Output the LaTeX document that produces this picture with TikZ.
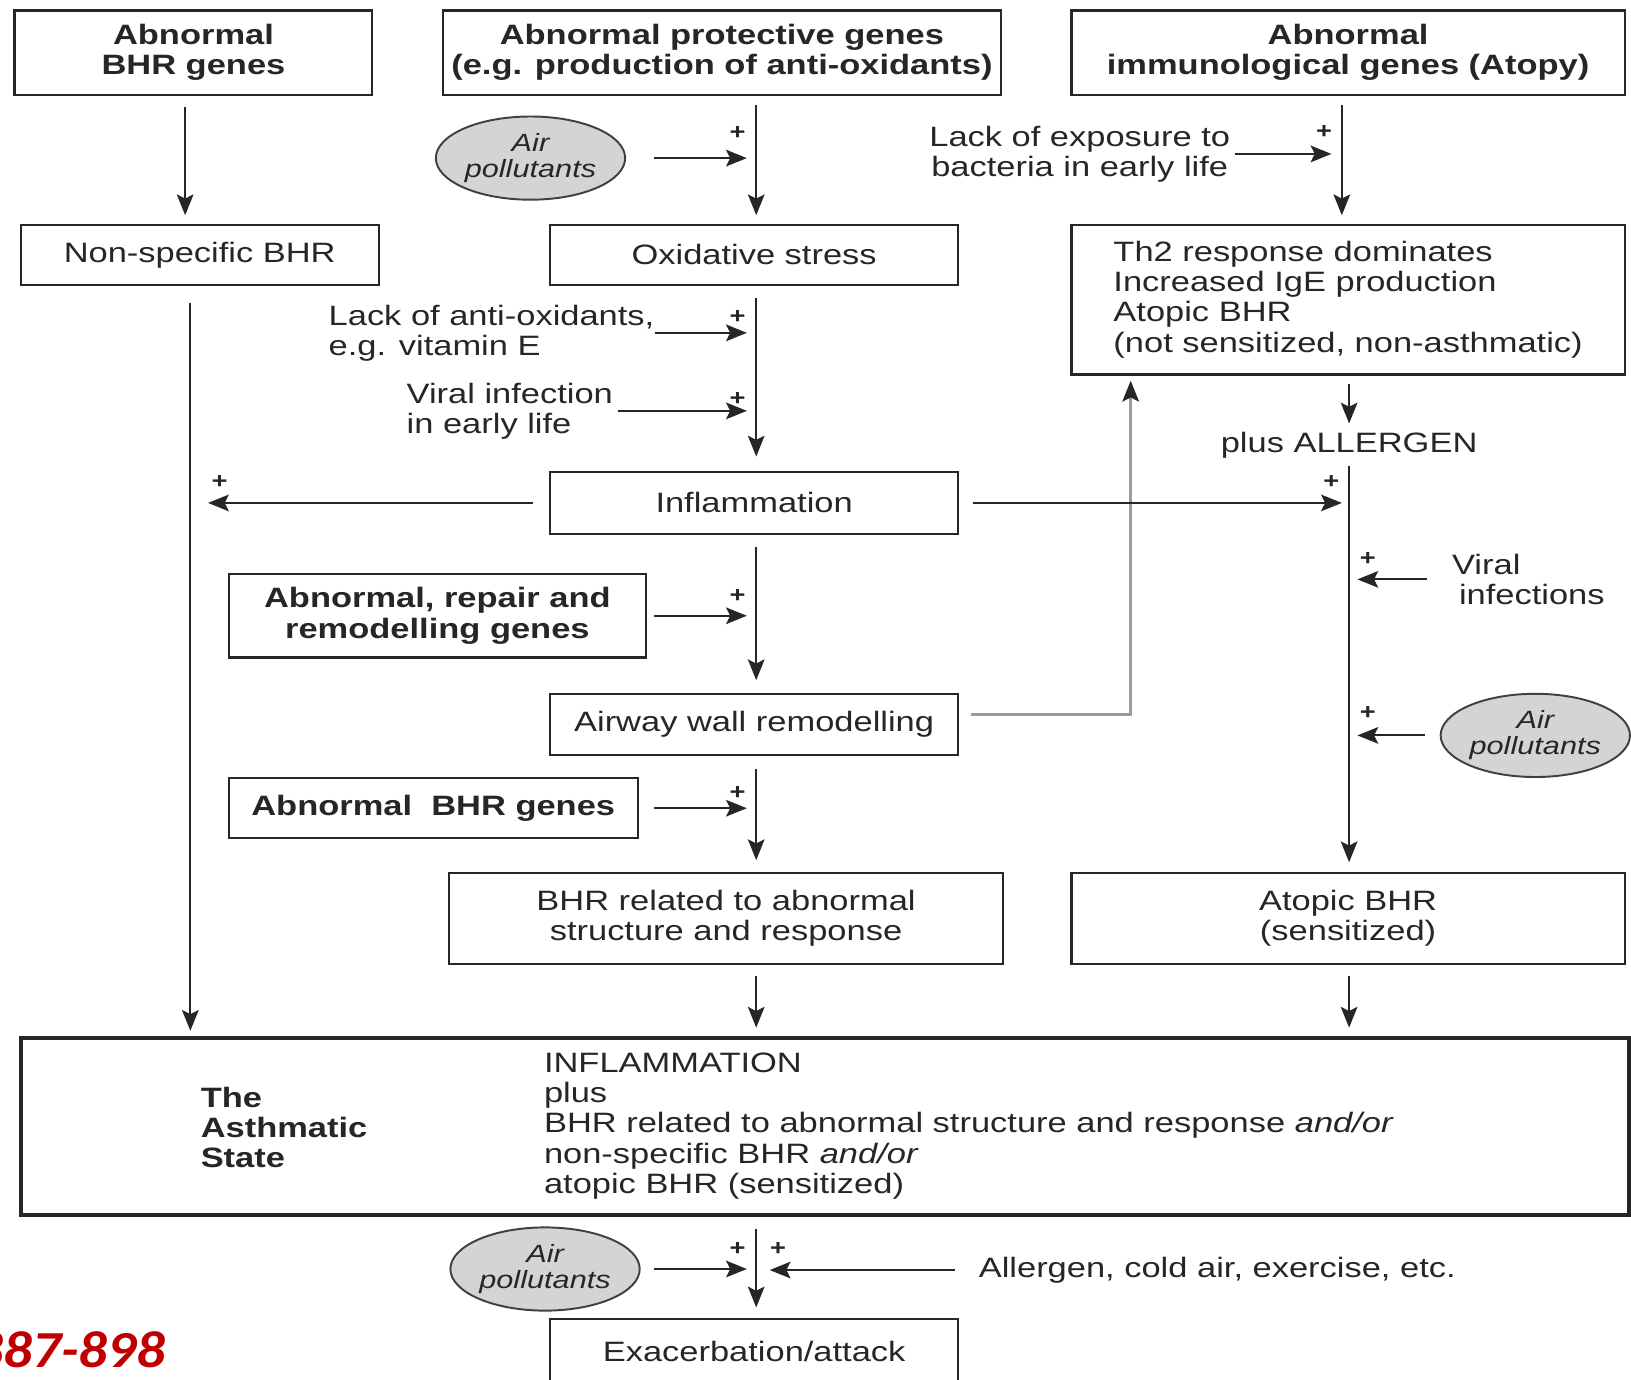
\documentclass[tikz,border=0pt]{standalone}
\usepackage{fontspec}
\setmainfont{Liberation Sans}[FakeStretch=1.23]
\newfontfamily\pagefont{Carlito}[FakeStretch=1.1]
\usetikzlibrary{arrows.meta,shapes.geometric}

\definecolor{ink}{HTML}{262626}
\definecolor{pollgray}{HTML}{D4D4D4}
\definecolor{linkgray}{HTML}{9A9A9A}
\definecolor{pagered}{HTML}{C00000}

\tikzset{every picture/.style={line width=1.5pt}}
\tikzset{
  sz/.style 2 args={minimum width=#1*0.75pt, minimum height=#2*0.75pt},
  box/.style={draw=ink, line width=1.6pt, inner sep=0pt, align=center, text=ink, font=\fontsize{20.2}{21.75}\selectfont},
  hbox/.style={box, font=\fontsize{20.2}{21.75}\selectfont\bfseries},
  txt/.style={inner sep=0pt, text=ink, font=\fontsize{20.2}{21.75}\selectfont},
  poll/.style={ellipse, draw=black!75, fill=pollgray, line width=1.4pt, inner sep=0pt, sz={182}{80}, align=center, text=ink, font=\fontsize{18}{18.75}\selectfont\itshape},
  plus/.style={inner sep=0pt, text=ink, font=\fontsize{16}{16}\selectfont\bfseries},
  arr/.style={draw=ink, line width=1.5pt, -{Stealth[length=15pt,width=12pt,inset=3pt]}},
}

\begin{document}
\begin{tikzpicture}[x=0.75pt,y=0.75pt,yscale=-1,xscale=1]
\useasboundingbox (0,0) rectangle (1568,1326);
%spines
\coordinate (sl) at (178,0);
\coordinate (sl2) at (183,0);
\coordinate (sm) at (727,0);
\coordinate (sr) at (1290,0);
\coordinate (sr2) at (1297,0);
\coordinate (gx) at (1087,687);

%Genes (top row)
\node[hbox, sz={344}{81}] (bhrg) at (186,50.5) {Abnormal\\BHR genes};
\node[hbox, sz={536}{81}] (protg) at (694,50.5) {Abnormal protective genes\\(e.g. production of anti-oxidants)};
\node[hbox, sz={532}{81}] (immg) at (1296,50.5) {Abnormal\\immunological genes (Atopy)};
%Second row
\node[box, sz={344}{58}] (nsbhr) at (192,245) {Non-specific BHR};
\node[box, sz={392}{58}] (oxid) at (725,245) {Oxidative stress};
\node[box, sz={532}{144}, align=left] (th2) at (1296,288) {Th2 response dominates\\Increased IgE production\\Atopic BHR\\(not sensitized, non-asthmatic)};
%Middle column
\node[box, sz={392}{59}] (infl) at (725,483.5) {Inflammation};
\node[hbox, sz={401}{80}] (repg) at (420.5,592) {Abnormal, repair and\\remodelling genes};
\node[box, sz={392}{59}] (awall) at (725,696.5) {Airway wall remodelling};
\node[hbox, sz={393}{58}] (bhrg2) at (416.5,777) {Abnormal\ \ BHR genes};
\node[box, sz={532}{88}] (bhrst) at (698,883) {BHR related to abnormal\\structure and response};
\node[box, sz={532}{88}] (atsens) at (1296,883) {Atopic BHR\\(sensitized)};
%Asthmatic state
\node[box, line width=3pt, sz={1546}{170}] (asth) at (793,1083) {};
\node[txt, font=\fontsize{20.2}{21.75}\selectfont\bfseries, anchor=west, align=left] (asthl) at (192,1084) {The\\Asthmatic\\State};
\node[txt, anchor=west, align=left] (asthr) at (522,1082.5) {INFLAMMATION\\plus\\BHR related to abnormal structure and response \textit{and/or}\\non-specific BHR \textit{and/or}\\atopic BHR (sensitized)};
\node[box, sz={392}{62}] (exac) at (725,1299) {Exacerbation/attack};

%Air pollutants
\node[poll] (air1) at (510,152) {Air\\pollutants};
\node[poll] (air2) at (1476,707) {Air\\pollutants};
\node[poll] (air3) at (524,1220) {Air\\pollutants};

%Text Nodes
\node[txt, align=center] (nobact) at (1038,148) {Lack of exposure to\\bacteria in early life};
\node[txt, anchor=west, align=left] (antiox) at (315,320) {Lack of anti-oxidants,\\e.g. vitamin E};
\node[txt, anchor=west, align=left] (viral1) at (390,395) {Viral infection\\in early life};
\node[txt] (plusall) at (1297,428) {plus ALLERGEN};
\node[txt, anchor=west, align=left] (viral2) at (1395,557) {Viral\\\hspace*{5pt}infections};
\node[txt, anchor=west] (trig) at (940,1221) {Allergen, cold air, exercise, etc.};
\node[inner sep=0pt, anchor=east, text=pagered, font=\pagefont\fontsize{37.5}{40}\selectfont\bfseries\itshape] (pages) at (160.5,1298) {887-898};

%plus signs
\node[plus] (p1) at (709,128) {+};
\node[plus] (p2) at (1273,127) {+};
\node[plus] (p3) at (709,305) {+};
\node[plus] (p4) at (709,384) {+};
\node[plus] (p5) at (211,463) {+};
\node[plus] (p6) at (1280,463) {+};
\node[plus] (p7) at (1315,537) {+};
\node[plus] (p8) at (709,573) {+};
\node[plus] (p9) at (1315,685) {+};
\node[plus] (p10) at (709,762) {+};
\node[plus] (p11) at (709,1201) {+};
\node[plus] (p12) at (748,1201) {+};

%remodelling back to the atopic branch
\draw[draw=linkgray, line width=1.8pt, -{Stealth[length=15pt,width=12pt,inset=3pt,color=ink]}, shorten <=8.25pt, shorten >=3.75pt] (awall.east |- gx) -- (gx) -- (th2.south -| gx);

%left spine
\draw[arr, shorten <=8.25pt, shorten >=6pt] (bhrg.south -| sl) -- (nsbhr.north -| sl);
\draw[arr, shorten <=12pt, shorten >=3.75pt] (nsbhr.south -| sl2) -- (asth.north -| sl2);
%middle spine
\draw[arr, shorten <=6.75pt, shorten >=6pt] (protg.south -| sm) -- (oxid.north -| sm);
\draw[arr, shorten <=8.25pt, shorten >=10.5pt] (oxid.south -| sm) -- (infl.north -| sm);
\draw[arr, shorten <=9pt, shorten >=9pt] (infl.south -| sm) -- (awall.north -| sm);
\draw[arr, shorten <=9pt, shorten >=8.25pt] (awall.south -| sm) -- (bhrst.north -| sm);
\draw[arr, shorten <=7.5pt, shorten >=6pt] (bhrst.south -| sm) -- (asth.north -| sm);
\draw[arr, shorten <=9pt, shorten >=7.5pt] (asth.south -| sm) -- (exac.north -| sm);
%right spine
\draw[arr, shorten <=6.75pt, shorten >=6pt] (immg.south -| sr) -- (th2.north -| sr);
\draw[arr, shorten <=6pt, shorten >=5.5pt] (th2.south -| sr2) -- (plusall.north -| sr2);
\draw[arr, shorten <=4.8pt, shorten >=6.75pt] (plusall.south -| sr2) -- (atsens.north -| sr2);
\draw[arr, shorten <=7.5pt, shorten >=6pt] (atsens.south -| sr2) -- (asth.north -| sr2);

%side inputs
\draw[arr, shorten <=20pt, shorten >=6.75pt] (air1.east) -- (air1.east -| sm);
\draw[arr, shorten <=3pt, shorten >=7.5pt] (nobact.east) -- (nobact.east -| sr);
\draw[arr, shorten >=6.75pt] (antiox.east) -- (antiox.east -| sm);
\draw[arr, shorten <=3pt, shorten >=6.75pt] (viral1.east) -- (viral1.east -| sm);
\draw[arr, shorten <=12pt, shorten >=12.75pt] (infl.west) -- (infl.west -| sl2);
\draw[arr, shorten <=9.75pt, shorten >=5.25pt] (infl.east) -- (infl.east -| sr2);
\draw[arr, shorten <=17.25pt, shorten >=6pt] (viral2.west) -- (viral2.west -| sr2);
\draw[arr, shorten <=10.5pt, shorten >=6pt] (air2.west) -- (air2.west -| sr2);
\draw[arr, shorten <=5.25pt, shorten >=6.75pt] (repg.east) -- (repg.east -| sm);
\draw[arr, shorten <=11.25pt, shorten >=6.75pt] (bhrg2.east) -- (bhrg2.east -| sm);
\draw[arr, shorten <=9.75pt, shorten >=6.75pt] (air3.east) -- (air3.east -| sm);
\draw[arr, shorten <=16.5pt, shorten >=9.75pt] (trig.west) -- (trig.west -| sm);
\end{tikzpicture}
\end{document}
